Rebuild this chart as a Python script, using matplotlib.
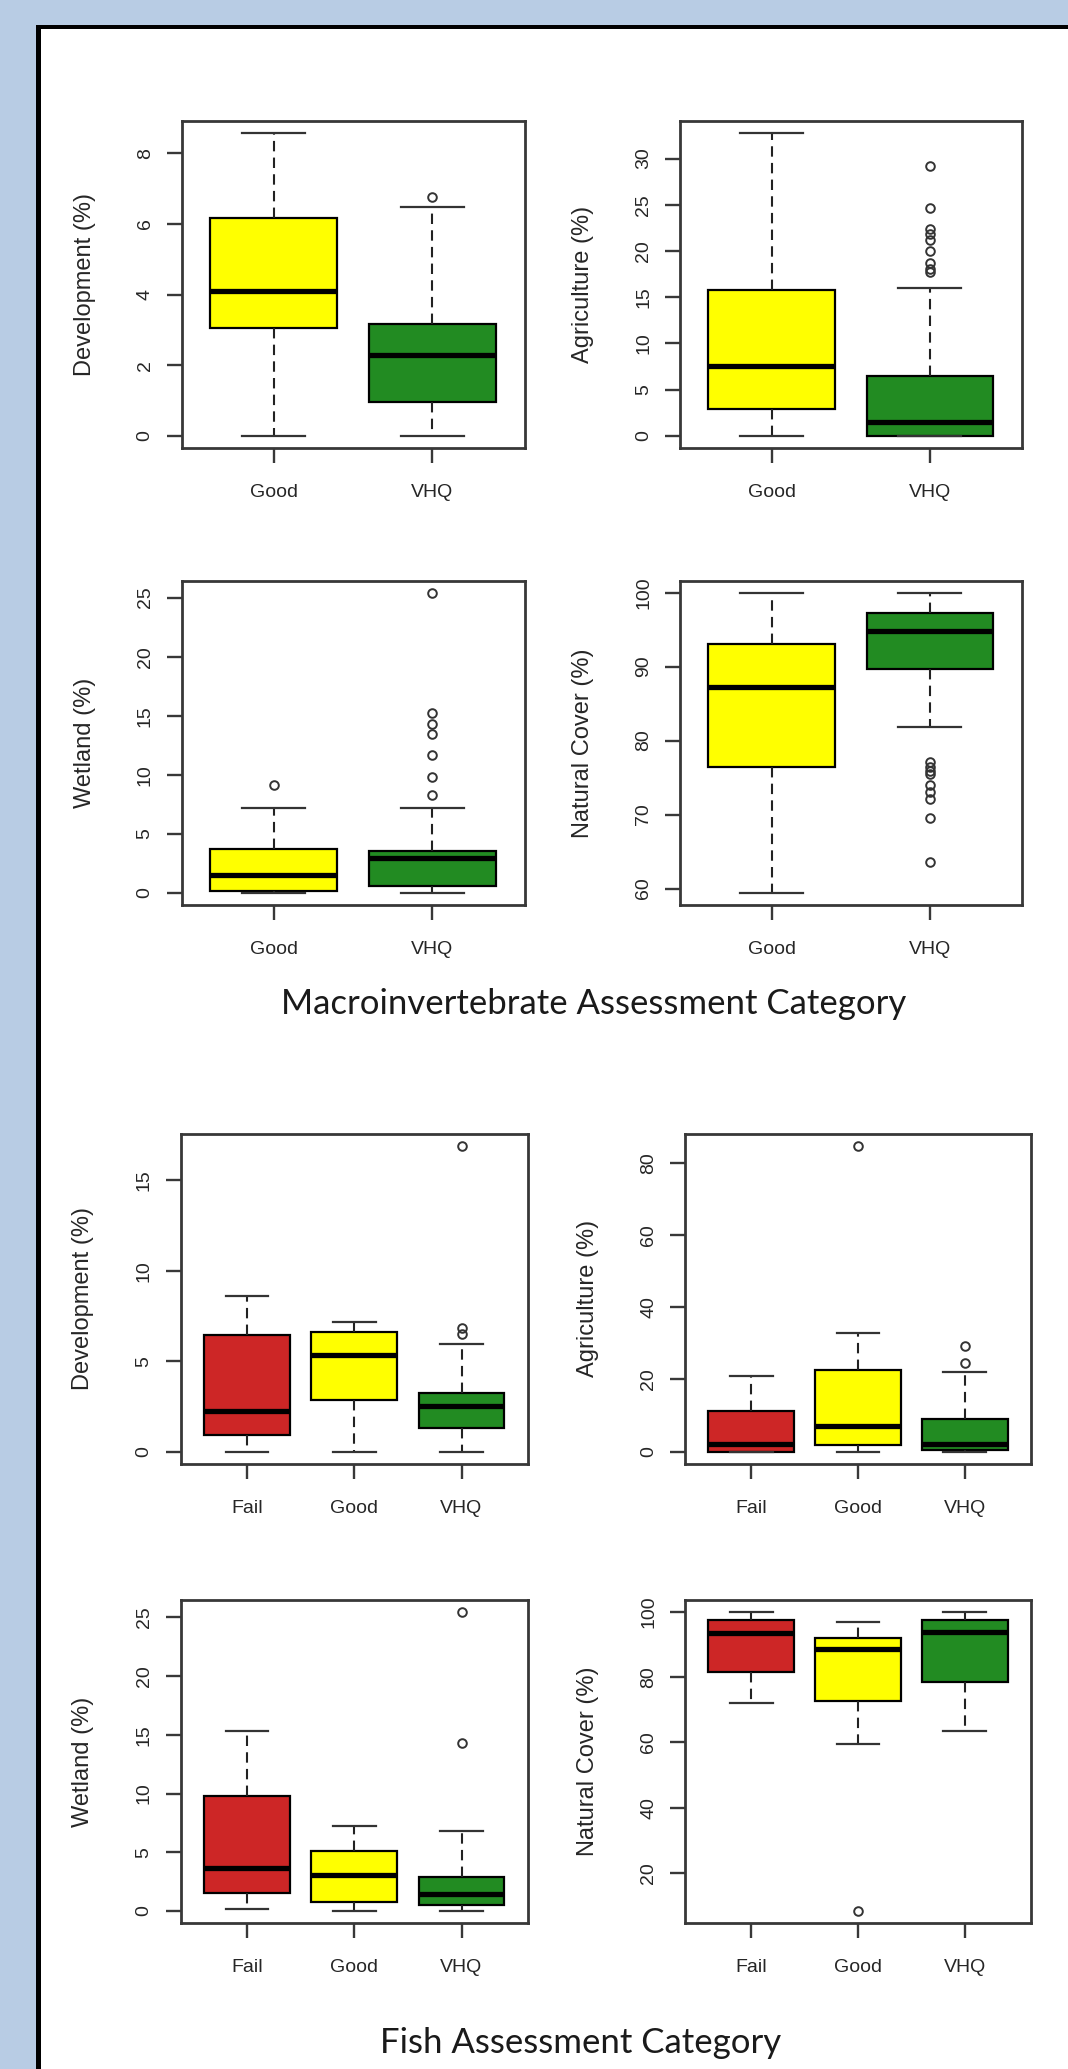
import matplotlib
matplotlib.use("Agg")
import matplotlib.pyplot as plt
from matplotlib.patches import Rectangle

# categories
macro_groups = ["Good", "VHQ"]
fish_groups = ["Fail", "Good", "VHQ"]
macro_colors = ["#FFFF00", "#228B22"]
fish_colors = ["#CD2626", "#FFFF00", "#228B22"]

# box summaries: whislo, q1, med, q3, whishi
macro_dev = [[0.0, 3.06, 4.10, 6.17, 8.57], [0.0, 0.97, 2.28, 3.16, 6.49]]
macro_dev_out = [[], [6.75]]
macro_agr = [[0.0, 2.86, 7.54, 15.78, 32.75], [0.0, 0.0, 1.49, 6.50, 16.04]]
macro_agr_out = [[], [29.15, 24.6, 22.4, 21.8, 21.2, 20.05, 18.7, 18.1, 17.7]]
macro_wet = [[0.0, 0.17, 1.53, 3.69, 7.23], [0.0, 0.60, 2.97, 3.57, 7.23]]
macro_wet_out = [[9.1], [8.3, 9.82, 11.7, 13.48, 14.34, 15.2, 25.43]]
macro_nat = [[59.4, 76.46, 87.26, 93.01, 100.0], [81.84, 89.7, 94.85, 97.29, 100.0]]
macro_nat_out = [[], [77.06, 76.46, 75.86, 75.54, 73.93, 73.01, 72.09, 69.47, 63.59]]

fish_dev = [[0.0, 0.91, 2.27, 6.44, 8.62], [0.0, 2.84, 5.34, 6.63, 7.16],
            [0.0, 1.33, 2.50, 3.26, 5.95]]
fish_dev_out = [[], [], [6.53, 6.86, 16.9]]
fish_agr = [[0.0, 0.0, 2.09, 11.2, 21.06], [0.0, 1.9, 7.1, 22.5, 32.9],
            [0.0, 0.47, 2.1, 9.0, 22.1]]
fish_agr_out = [[], [84.7], [24.7, 29.2]]
fish_wet = [[0.17, 1.56, 3.69, 9.82, 15.29], [0.0, 0.75, 3.11, 5.07, 7.23],
            [0.0, 0.52, 1.44, 2.91, 6.8]]
fish_wet_out = [[], [], [14.34, 25.46]]
fish_nat = [[72.2, 81.7, 93.4, 97.6, 100.0], [59.4, 72.8, 88.5, 91.9, 96.8],
            [63.4, 78.4, 94.0, 97.6, 100.0]]
fish_nat_out = [[], [8.3], []]

# tick values
ticks_macro_dev = [0, 2, 4, 6, 8]
ticks_macro_agr = [0, 5, 10, 15, 20, 25, 30]
ticks_macro_wet = [0, 5, 10, 15, 20, 25]
ticks_macro_nat = [60, 70, 80, 90, 100]
ticks_fish_dev = [0, 5, 10, 15]
ticks_fish_agr = [0, 20, 40, 60, 80]
ticks_fish_wet = [0, 5, 10, 15, 20, 25]
ticks_fish_nat = [20, 40, 60, 80, 100]

W, H = 1068, 2069
fig = plt.figure(figsize=(W / 100, H / 100), dpi=100)
fig.patch.set_facecolor("#B8CCE4")

# white slide area with black frame on left and top
bg = fig.add_axes([0, 0, 1, 1], zorder=-5)
bg.set_xlim(0, W)
bg.set_ylim(H, 0)
bg.axis("off")
bg.add_patch(Rectangle((36, 24.5), W, H, facecolor="white", edgecolor="none"))
bg.add_patch(Rectangle((36, 24.5), 4.5, H, facecolor="black", edgecolor="none"))
bg.add_patch(Rectangle((36, 24.5), W, 4.8, facecolor="black", edgecolor="none"))

TXT = "#262626"
LINE = "#383838"


def px_axes(l, t, r, b):
    return fig.add_axes([l / W, 1 - b / H, (r - l) / W, (b - t) / H])


def draw_box(rect, groups, colors, stats, outs, ticks, ylabel):
    ax = px_axes(*rect)
    bstats = []
    for name, s, o in zip(groups, stats, outs):
        bstats.append({"label": name, "whislo": s[0], "q1": s[1], "med": s[2],
                       "q3": s[3], "whishi": s[4], "fliers": o})
    n = len(groups)
    res = ax.bxp(bstats, positions=range(1, n + 1), widths=0.8, capwidths=0.4,
                 patch_artist=True, showfliers=True,
                 boxprops=dict(edgecolor="black", linewidth=1.6),
                 medianprops=dict(color="black", linewidth=3.8, solid_capstyle="butt"),
                 whiskerprops=dict(color="#222222", linewidth=1.5, linestyle=(0, (5, 3))),
                 capprops=dict(color="#333333", linewidth=1.6),
                 flierprops=dict(marker="o", markersize=6.2, markerfacecolor="none",
                                 markeredgecolor="#333333", markeredgewidth=1.4))
    for patch, c in zip(res["boxes"], colors):
        patch.set_facecolor(c)
    # R style limits: 4% padding
    lo = min([s[0] for s in stats] + [v for o in outs for v in o])
    hi = max([s[4] for s in stats] + [v for o in outs for v in o])
    pad = 0.04 * (hi - lo)
    ax.set_ylim(lo - pad, hi + pad)
    ax.set_xlim(0.5 - 0.04 * n, n + 0.5 + 0.04 * n)
    ax.set_yticks(ticks)
    ax.set_yticklabels([str(t) for t in ticks], rotation=90, va="center",
                       fontsize=14, color=TXT, family="Liberation Sans")
    ax.set_xticks(range(1, n + 1))
    ax.set_xticklabels(groups, fontsize=14, color=TXT, family="Liberation Sans")
    ax.tick_params(axis="y", length=11, width=1.7, color=LINE, pad=9)
    ax.tick_params(axis="x", length=11, width=1.7, color=LINE, pad=15)
    for sp in ax.spines.values():
        sp.set_linewidth(2.0)
        sp.set_color(LINE)
    ax.text(-97 / (rect[2] - rect[0]), 0.5, ylabel, transform=ax.transAxes,
            rotation=90, ha="center", va="center", fontsize=17, color=TXT,
            family="Liberation Sans")
    return ax


draw_box((181.5, 121, 524.5, 448), macro_groups, macro_colors, macro_dev,
         macro_dev_out, ticks_macro_dev, "Development (%)")
draw_box((680, 121, 1021.5, 448), macro_groups, macro_colors, macro_agr,
         macro_agr_out, ticks_macro_agr, "Agriculture (%)")
draw_box((181.5, 580.5, 524.5, 905), macro_groups, macro_colors, macro_wet,
         macro_wet_out, ticks_macro_wet, "Wetland (%)")
draw_box((680, 580.5, 1021.5, 905), macro_groups, macro_colors, macro_nat,
         macro_nat_out, ticks_macro_nat, "Natural Cover (%)")

draw_box((180.5, 1133.5, 528, 1464), fish_groups, fish_colors, fish_dev,
         fish_dev_out, ticks_fish_dev, "Development (%)")
draw_box((685, 1133.5, 1031, 1464), fish_groups, fish_colors, fish_agr,
         fish_agr_out, ticks_fish_agr, "Agriculture (%)")
draw_box((180.5, 1600, 528, 1923), fish_groups, fish_colors, fish_wet,
         fish_wet_out, ticks_fish_wet, "Wetland (%)")
draw_box((685, 1600, 1031, 1923), fish_groups, fish_colors, fish_nat,
         fish_nat_out, ticks_fish_nat, "Natural Cover (%)")

fig.text(594 / W, 1 - 1004 / H, "Macroinvertebrate Assessment Category",
         ha="center", va="center", fontsize=25, color="#1a1a1a", family="Lato")
fig.text(581 / W, 1 - 2043 / H, "Fish Assessment Category",
         ha="center", va="center", fontsize=25, color="#1a1a1a", family="Lato")

fig.savefig("out.png", dpi=100, facecolor=fig.get_facecolor())
